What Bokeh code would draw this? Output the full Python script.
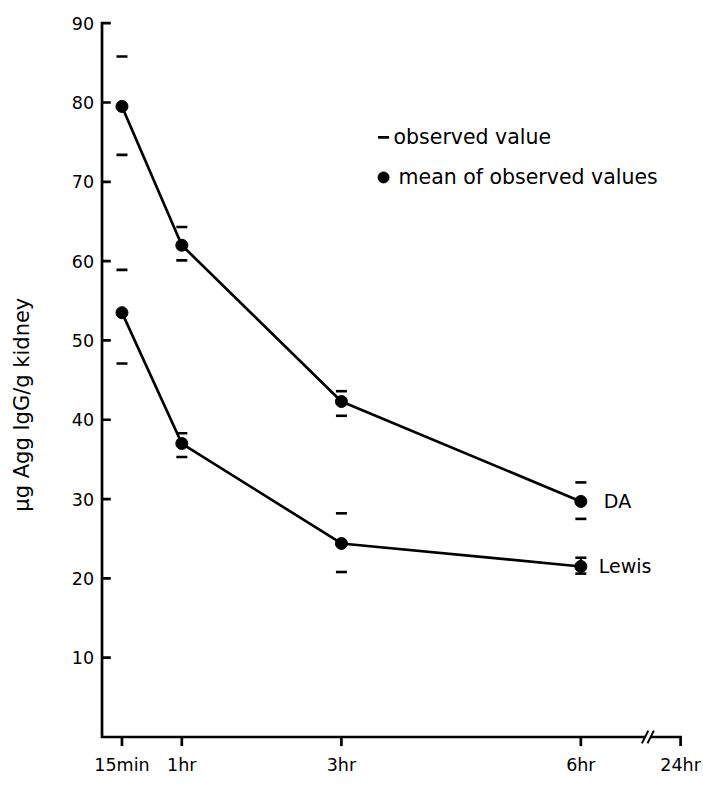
import numpy as np
from bokeh.plotting import figure
from bokeh.models import Range1d
from bokeh.core.properties import value
from bokeh.embed import file_html
from bokeh.resources import INLINE

# ---------------- data ----------------
time_labels = ["15min", "1hr", "3hr", "6hr", "24hr"]
time_hours = [0.25, 1, 3, 6]
tick_positions = [0.25, 1, 3, 6, 7.25]   # 24hr shown after the axis break
y_ticks = [10, 20, 30, 40, 50, 60, 70, 80, 90]

da_mean = [79.5, 62.0, 42.3, 29.7]
lewis_mean = [53.5, 37.0, 24.4, 21.5]
da_obs_high = [85.8, 64.3, 43.6, 32.1]
da_obs_low = [73.4, 60.1, 40.5, 27.5]
lewis_obs_high = [58.9, 38.3, 28.2, 22.6]
lewis_obs_low = [47.1, 35.3, 20.8, 20.6]

series_names = ["DA", "Lewis"]
legend_texts = ["observed value", "mean of observed values"]
y_title = "\u03bcg Agg IgG/g kidney"

# ---------------- figure (frame covers whole canvas; axes drawn by hand) ----------------
FONT = "DejaVu Sans"
p = figure(width=703, height=785, output_backend="svg", toolbar_location=None,
           x_range=Range1d(-1.272, 7.537), y_range=Range1d(-6.115, 92.86),
           x_axis_location=None, y_axis_location=None,
           min_border_left=0, min_border_right=0, min_border_top=0, min_border_bottom=0)
p.outline_line_color = None
p.grid.visible = False
p.background_fill_color = "white"
p.border_fill_color = "white"

LW = 2.7
TICK_X = 0.11    # inward y-tick length (hours)
TICK_Y = 1.15    # downward x-tick length (units)
brk = 6.84
bgap = 0.035

# axis lines
p.line([TICK_X, 0, 0, brk - bgap], [y_ticks[-1], y_ticks[-1], 0, 0],
       line_width=LW, color="black", line_join="miter")
p.line([brk + bgap, tick_positions[-1], tick_positions[-1]], [0, 0, -TICK_Y],
       line_width=LW, color="black", line_join="miter")
# ticks
p.segment(x0=[0] * (len(y_ticks) - 1), y0=y_ticks[:-1], x1=[TICK_X] * (len(y_ticks) - 1), y1=y_ticks[:-1],
          line_width=LW, color="black")
p.segment(x0=tick_positions[:-1], y0=[0] * 4, x1=tick_positions[:-1], y1=[-TICK_Y] * 4,
          line_width=LW, color="black")
# break slashes
p.segment(x0=[brk - bgap - 0.04, brk + bgap - 0.04], y0=[-0.8, -0.8],
          x1=[brk - bgap + 0.04, brk + bgap + 0.04], y1=[0.8, 0.8],
          line_width=2, color="black")

# tick labels
p.text(x=[0] * len(y_ticks), y=y_ticks, text=[str(t) for t in y_ticks], x_offset=-8,
       text_align="right", text_baseline="middle", text_font=value(FONT),
       text_font_size="17.5px", text_color="black")
p.text(x=tick_positions, y=[0] * len(tick_positions), text=time_labels, y_offset=18,
       text_align="center", text_baseline="top", text_font=value(FONT),
       text_font_size="17.5px", text_color="black")

# y title
p.text(x=[0], y=[41.9], text=[y_title], x_offset=-80, angle=np.pi / 2,
       text_align="center", text_baseline="middle", text_font=value(FONT),
       text_font_size="21px", text_color="black")

# series lines and means
p.line(time_hours, da_mean, line_width=LW, color="black")
p.line(time_hours, lewis_mean, line_width=LW, color="black")
p.scatter(time_hours + time_hours, da_mean + lewis_mean, marker="circle", size=12,
          fill_color="black", line_color="black")

# observed values (dashes)
obs_x = time_hours * 4
obs_y = da_obs_high + da_obs_low + lewis_obs_high + lewis_obs_low
p.scatter(obs_x, obs_y, marker="dash", size=11, line_width=2.6, line_color="black")
# Lewis 6hr: observed values joined
p.segment(x0=[time_hours[-1]], y0=[lewis_obs_low[-1]], x1=[time_hours[-1]], y1=[lewis_obs_high[-1]],
          line_width=2, color="black")

# series labels
p.text(x=[time_hours[-1]], y=[da_mean[-1]], text=[series_names[0]], x_offset=23,
       text_baseline="middle", text_align="left", text_font=value(FONT),
       text_font_size="19px", text_color="black")
p.text(x=[time_hours[-1]], y=[lewis_mean[-1]], text=[series_names[1]], x_offset=18,
       text_baseline="middle", text_align="left", text_font=value(FONT),
       text_font_size="19px", text_color="black")

# legend
p.scatter([3.528], [75.6], marker="dash", size=11, line_width=2.6, line_color="black")
p.text(x=[3.653], y=[75.6], text=[legend_texts[0]], text_baseline="middle",
       text_font=value(FONT), text_font_size="20.5px", text_color="black")
p.scatter([3.528], [70.55], marker="circle", size=11, fill_color="black", line_color="black")
p.text(x=[3.716], y=[70.55], text=[legend_texts[1]], text_baseline="middle",
       text_font=value(FONT), text_font_size="20.5px", text_color="black")

open("out.html", "w").write(file_html(p, INLINE))
